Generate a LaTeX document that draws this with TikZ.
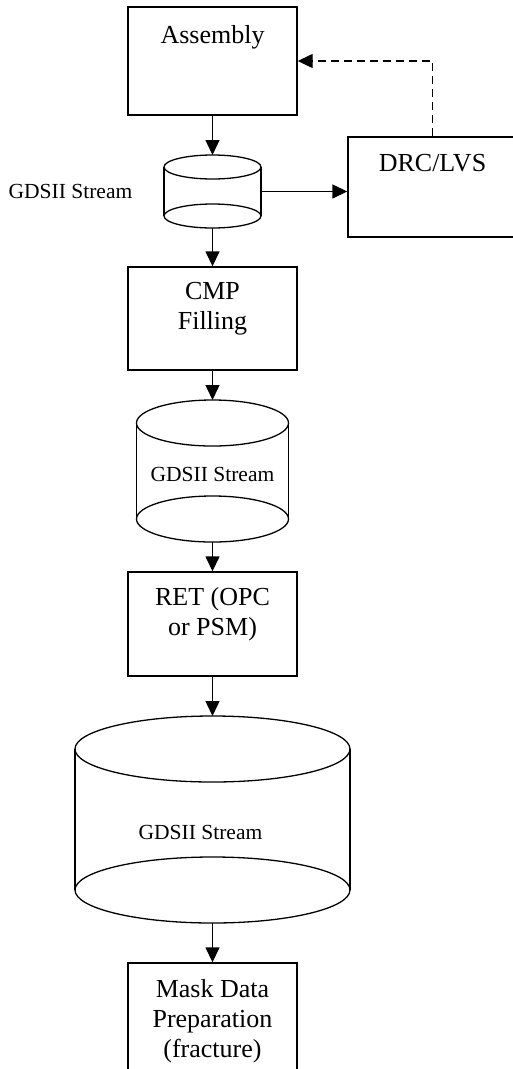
\documentclass[tikz,border=0pt]{standalone}
\usepackage{fontspec}
\setmainfont{Liberation Serif}
\usetikzlibrary{arrows.meta, positioning}

\tikzset{
  stage/.style = {draw, line width=1.4pt, minimum width=169pt, inner sep=0pt},
  stagetext/.style = {anchor=north, align=center, inner sep=0pt, font=\fontsize{26}{30}\selectfont},
  disk/.style 2 args = {minimum width=#1, minimum height=#2, inner sep=0pt, outer sep=0pt},
  disktext/.style = {inner sep=0pt, font=\fontsize{21.5}{25}\selectfont},
  flow/.style = {-{Triangle[length=15pt, width=14pt]}, line width=1.4pt},
}

% sides and both end ellipses of a data cylinder
\newcommand{\drawdisk}[3]{%
  \draw[line width=1.3pt] ([yshift=-#3]#1.north west) -- ([yshift=#3]#1.south west)
    ([yshift=-#3]#1.north east) -- ([yshift=#3]#1.south east);
  \draw[line width=1.3pt] ([yshift=-#3]#1.north) ellipse [x radius=#2, y radius=#3]
    ([yshift=#3]#1.south) ellipse [x radius=#2, y radius=#3];
}

\begin{document}
\begin{tikzpicture} [x=1pt, y=1pt, on grid]
\useasboundingbox (0,0) rectangle (513,-1069);

\node (assembly) [stage, minimum height=108pt] at (212.5,-61) {};
\node (gds1) [disk={97pt}{73pt}, below=130.5pt of assembly] {};
\node (cmp) [stage, minimum height=103pt, below=127pt of gds1] {};
\node (gds2) [disk={152pt}{142pt}, below=152.5pt of cmp] {};
\node (ret) [stage, minimum height=104pt, below=153pt of gds2] {};
\node (gds3) [disk={275pt}{207pt}, below=195.5pt of ret] {};
\node (mask) [stage, minimum height=120pt, below=203.5pt of gds3] {};
\node (drc) [stage, minimum height=100pt, above right=4.5pt and 220pt of gds1] {};

\drawdisk{gds1}{48.5pt}{12pt}
\drawdisk{gds2}{76pt}{23pt}
\drawdisk{gds3}{137.5pt}{33pt}

% texts
\node (assembly-txt) [stagetext] at ([yshift=-19pt]assembly.north) {Assembly};
\node (cmp-txt) [stagetext] at ([yshift=-16pt]cmp.north) {CMP\\Filling};
\node (ret-txt) [stagetext] at ([yshift=-16pt]ret.north) {RET (OPC\\or PSM)};
\node (mask-txt) [stagetext] at ([yshift=-17pt]mask.north) {Mask Data\\Preparation\\(fracture)};
\node (drc-txt) [stagetext] at ([yshift=-18pt]drc.north) {DRC/LVS};
\node (gds1-txt) [disktext, left=142pt of gds1] {GDSII Stream};
\node (gds2-txt) [disktext] at ([yshift=-3pt]gds2.center) {GDSII Stream};
\node (gds3-txt) [disktext] at ([xshift=-12pt, yshift=-13pt]gds3.center) {GDSII Stream};

\draw [flow] (assembly) -- (gds1);
\draw [flow] (gds1) -- (cmp);
\draw [flow] (cmp) -- (gds2);
\draw [flow] (gds2) -- (ret);
\draw [flow] (ret) -- (gds3);
\draw [flow] (gds3) -- (mask);
\draw [flow] (gds1) -- (gds1 -| drc.west);
\draw [flow, dash pattern=on 8pt off 5pt] (drc.north) |- (assembly.east);
\end{tikzpicture}
\end{document}
